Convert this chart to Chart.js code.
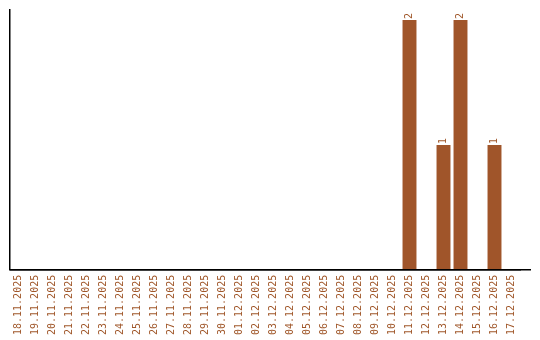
<!DOCTYPE html>
<html>
<head>
<meta charset="utf-8">
<script src="https://cdn.jsdelivr.net/npm/chart.js@4/dist/chart.umd.min.js"></script>
<style>
html,body{margin:0;padding:0;background:#fff;}
#wrap{width:540px;height:340px;position:relative;}
</style>
</head>
<body>
<div id="wrap"><canvas id="c" width="540" height="340"></canvas></div>
<script>
const categories = ["18.11.2025","19.11.2025","20.11.2025","21.11.2025","22.11.2025","23.11.2025","24.11.2025","25.11.2025","26.11.2025","27.11.2025","28.11.2025","29.11.2025","30.11.2025","01.12.2025","02.12.2025","03.12.2025","04.12.2025","05.12.2025","06.12.2025","07.12.2025","08.12.2025","09.12.2025","10.12.2025","11.12.2025","12.12.2025","13.12.2025","14.12.2025","15.12.2025","16.12.2025","17.12.2025"];
const counts = [0,0,0,0,0,0,0,0,0,0,0,0,0,0,0,0,0,0,0,0,0,0,0,2,0,1,2,0,1,0];

const BROWN = '#A0572A';
const FONT = '"DejaVu Sans Mono", monospace';

const valueLabels = {
  id: 'valueLabels',
  afterDatasetsDraw(chart) {
    const ctx = chart.ctx;
    const meta = chart.getDatasetMeta(0);
    ctx.save();
    ctx.fillStyle = BROWN;
    ctx.font = '10px ' + FONT;
    ctx.textAlign = 'left';
    ctx.textBaseline = 'middle';
    meta.data.forEach((bar, i) => {
      const v = counts[i];
      if (!v) return;
      ctx.save();
      ctx.translate(bar.x, bar.y - 1);
      ctx.rotate(-Math.PI / 2);
      ctx.fillText(String(v), 0, 0);
      ctx.restore();
    });
    ctx.restore();
  }
};

const axisExtend = {
  id: 'axisExtend',
  afterDraw(chart) {
    const a = chart.chartArea, ctx = chart.ctx;
    ctx.save();
    ctx.strokeStyle = '#000';
    ctx.lineWidth = 1.5;
    ctx.beginPath();
    ctx.moveTo(a.left, a.bottom);
    ctx.lineTo(a.right + 11, a.bottom);
    ctx.stroke();
    ctx.restore();
  }
};

new Chart(document.getElementById('c'), {
  type: 'bar',
  data: {
    labels: categories,
    datasets: [{
      data: counts,
      backgroundColor: '#A0552A',
      borderWidth: 0,
      categoryPercentage: 1,
      barPercentage: 0.82
    }]
  },
  options: {
    responsive: false,
    animation: false,
    layout: { padding: { left: 10, top: 10, right: 20, bottom: 0 } },
    plugins: { legend: { display: false }, tooltip: { enabled: false } },
    scales: {
      x: {
        grid: { display: false, drawTicks: false },
        border: { display: true, color: '#000', width: 1.5 },
        ticks: {
          color: BROWN,
          font: { family: FONT, size: 10 },
          minRotation: 90, maxRotation: 90,
          autoSkip: false,
          padding: 5
        }
      },
      y: {
        min: 0, max: 2.08,
        grid: { display: false, drawTicks: false },
        border: { display: true, color: '#000', width: 1.5 },
        ticks: { display: false }
      }
    }
  },
  plugins: [valueLabels, axisExtend]
});
</script>
</body>
</html>
